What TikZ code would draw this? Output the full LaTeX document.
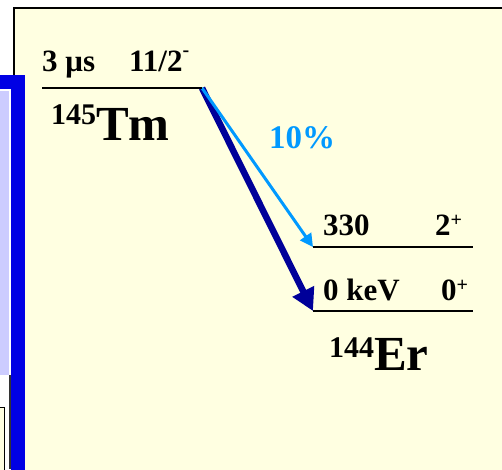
\documentclass[tikz,border=0pt]{standalone}
\usepackage{fontspec}
\setmainfont{Liberation Serif}
\usepackage{xcolor}
\usepackage{tikz}
\usetikzlibrary{arrows.meta}

\definecolor{slideyellow}{RGB}{255,255,225}
\definecolor{panelblue}{RGB}{0,0,228}
\definecolor{panellav}{RGB}{204,204,255}
\definecolor{gdark}{RGB}{0,0,153}
\definecolor{glight}{RGB}{0,153,255}

\newcommand{\upidx}[2]{\raisebox{#1}{\fontsize{20}{20}\selectfont #2}}
\newcommand{\massno}[2]{\raisebox{#1}{\fontsize{30}{30}\selectfont #2}}

\begin{document}
\begin{tikzpicture}[x=1pt,y=-1pt,
  lbl/.style={font=\fontsize{31}{32}\selectfont\bfseries,anchor=base west,inner sep=0pt},
  nucl/.style={font=\fontsize{49}{50}\selectfont\bfseries,anchor=base west,inner sep=0pt},
  lvl/.style={line width=2pt}]
  \useasboundingbox (0,0) rectangle (502,469);
  \clip (0,0) rectangle (502,469);
  % slide background
  \fill[white] (0,0) rectangle (502,469);
  \draw[line width=2pt,fill=slideyellow] (14,8) rectangle (530,500);
  % edge of the neighbouring panel
  \fill[panelblue] (-10,75) rectangle (25,500);
  \fill[white] (-10,89) rectangle (11,500);
  \fill[panellav] (-10,91) rectangle (9,375);
  \draw[line width=1.5pt,black!80] (10,375) -- (10,469);
  \draw[line width=1pt,fill=slideyellow] (-10,407) rectangle (4,500);
  % levels
  \coordinate (tmL) at (42,88);
  \coordinate (tmR) at (202,88);
  \coordinate (exL) at (313,247);
  \coordinate (exR) at (473,247);
  \coordinate (gsL) at (313,311);
  \coordinate (gsR) at (473,311);
  \draw[gdark,line width=6.5pt,-{Triangle[length=22pt,width=23pt]}] (tmR) -- (gsL);
  \draw[glight,line width=3pt,-{Triangle[length=13pt,width=13pt]}] (tmR) -- (exL);
  \draw[lvl] (tmL) -- (tmR);
  \draw[lvl] (exL) -- (exR);
  \draw[lvl] (gsL) -- (gsR);
  % labels
  \node[lbl] (life) at (42,71) {3 μs};
  \node[lbl] (spinTm) at (129,71) {11/2\upidx{15pt}{-}};
  \node[nucl] (tm) at (51,140) {\massno{16pt}{145}Tm};
  \node[lbl,text=glight,font=\fontsize{33}{34}\selectfont\bfseries] (br) at (269,148) {10\%};
  \node[lbl] (eEx) at (323,235) {330};
  \node[lbl] (spEx) at (435,235) {2\upidx{9pt}{+}};
  \node[lbl] (eGs) at (323,300) {0 keV};
  \node[lbl] (spGs) at (441,300) {0\upidx{9pt}{+}};
  \node[nucl] (er) at (329,370) {\massno{13pt}{144}Er};
\end{tikzpicture}
\end{document}
